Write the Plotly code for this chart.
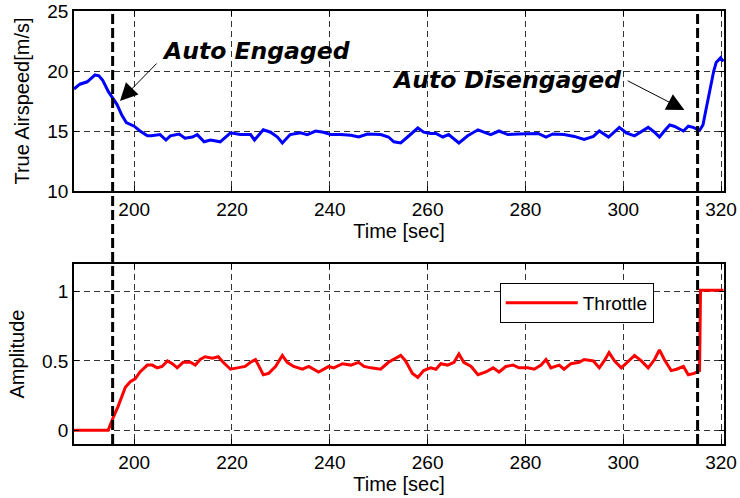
import plotly.graph_objects as go
from plotly.subplots import make_subplots

# True airspeed record [m/s]
t_speed = [187.7, 188.9, 190.4, 192.0, 192.8, 193.6, 194.7, 195.5, 196.5, 197.5,
           198.4, 200.0, 201.2, 202.7, 203.5, 205.3, 206.5, 207.4, 209.2, 210.4,
           211.9, 212.9, 214.3, 215.6, 217.6, 219.7, 221.7, 223.8, 224.6, 226.4,
           227.9, 229.3, 230.3, 231.9, 234.0, 235.4, 237.1, 238.7, 240.2, 242.2,
           244.3, 245.9, 247.7, 250.4, 252.0, 253.1, 254.5, 255.9, 258.0, 259.2,
           260.6, 261.7, 263.1, 264.3, 266.4, 268.2, 270.3, 271.5, 272.9, 274.6,
           276.4, 278.5, 280.5, 282.6, 284.2, 285.6, 287.9, 290.0, 292.0, 293.9,
           295.1, 297.0, 299.2, 300.6, 302.3, 305.1, 306.4, 307.4, 308.4, 309.5,
           310.4, 312.3, 313.3, 314.3, 315.6, 316.3, 316.9, 317.5, 318.0, 318.5,
           319.0, 319.9, 320.5]
airspeed = [18.5, 18.9, 19.1, 19.67, 19.6, 19.2, 18.3, 17.8, 17.2, 16.3,
            15.7, 15.4, 15.0, 14.6, 14.6, 14.7, 14.25, 14.6, 14.75, 14.4,
            14.5, 14.7, 14.1, 14.25, 14.1, 14.85, 14.7, 14.7, 14.25, 15.1,
            14.9, 14.5, 14.0, 14.7, 14.85, 14.7, 15.0, 14.9, 14.7, 14.7,
            14.65, 14.5, 14.75, 14.7, 14.5, 14.1, 14.0, 14.5, 15.25, 14.9,
            14.8, 14.8, 14.5, 14.7, 14.0, 14.6, 15.1, 14.9, 14.7, 15.0,
            14.7, 14.75, 14.8, 14.8, 14.5, 14.75, 14.7, 14.55, 14.3, 14.55,
            15.0, 14.5, 15.3, 14.85, 14.6, 15.3, 14.9, 14.5, 15.0, 15.5,
            15.4, 15.0, 15.4, 15.3, 15.05, 15.5, 16.75, 18.0, 19.25, 20.0,
            20.7, 21.1, 20.8]

# Throttle command (normalised)
t_throttle = [187.7, 194.7, 195.7, 196.7, 198.2, 199.2, 200.2, 201.2, 202.7, 203.7,
              204.7, 205.7, 206.8, 207.8, 208.8, 210.0, 211.5, 212.5, 213.5, 214.5,
              216.0, 217.2, 218.2, 219.7, 221.1, 222.7, 223.8, 224.8, 225.4, 226.4,
              227.5, 228.9, 230.3, 231.3, 232.6, 234.4, 235.7, 237.7, 239.8, 240.8,
              242.6, 244.3, 245.9, 247.0, 248.4, 250.4, 252.0, 253.5, 254.5, 255.5,
              256.9, 258.0, 259.2, 260.6, 261.7, 262.7, 264.1, 265.4, 266.4, 267.4,
              268.9, 270.3, 271.9, 273.4, 274.6, 276.0, 277.5, 278.7, 280.5, 281.8,
              283.2, 284.2, 285.2, 286.9, 287.9, 289.3, 291.0, 292.0, 293.9, 295.1,
              296.1, 297.1, 298.2, 299.6, 301.0, 302.3, 303.7, 305.1, 306.4, 307.4,
              308.4, 309.8, 310.9, 312.3, 313.3, 314.5, 315.6, 315.8, 320.5]
throttle = [0.0, 0.0, 0.09, 0.17, 0.31, 0.35, 0.37, 0.42, 0.47, 0.47,
            0.45, 0.46, 0.5, 0.48, 0.45, 0.49, 0.49, 0.47, 0.51, 0.53,
            0.52, 0.53, 0.49, 0.44, 0.45, 0.46, 0.49, 0.51, 0.47, 0.40,
            0.41, 0.46, 0.54, 0.49, 0.46, 0.44, 0.46, 0.42, 0.46, 0.45,
            0.48, 0.47, 0.49, 0.46, 0.45, 0.44, 0.49, 0.52, 0.54, 0.5,
            0.41, 0.38, 0.43, 0.45, 0.44, 0.48, 0.47, 0.49, 0.55, 0.49,
            0.46, 0.40, 0.42, 0.45, 0.42, 0.46, 0.47, 0.45, 0.45, 0.44,
            0.47, 0.51, 0.45, 0.47, 0.44, 0.48, 0.49, 0.51, 0.5, 0.45,
            0.5, 0.56, 0.5, 0.45, 0.5, 0.54, 0.5, 0.45, 0.51, 0.58,
            0.51, 0.43, 0.44, 0.46, 0.40, 0.41, 0.43, 1.01, 1.01]

# Autopilot engage / disengage instants [sec]
t_engage = 195.6
t_disengage = 315.2

x_range = [187.7, 320.6]
x_ticks = [200, 220, 240, 260, 280, 300, 320]
speed_ticks = [10, 15, 20, 25]
amp_ticks = [0, 0.5, 1]
amp_tick_text = ["0", "0.5", "1"]

FONT = "Liberation Sans, Arial, sans-serif"

fig = make_subplots(rows=2, cols=1)

fig.add_trace(go.Scatter(x=t_speed, y=airspeed, mode="lines",
                         line=dict(color="#0000ff", width=3),
                         showlegend=False, name="True Airspeed"),
              row=1, col=1)
fig.add_trace(go.Scatter(x=t_throttle, y=throttle, mode="lines",
                         line=dict(color="#ff0000", width=3),
                         name="Throttle"),
              row=2, col=1)

axis_common = dict(
    showline=True, linecolor="black", linewidth=1.5, mirror="ticks",
    ticks="inside", ticklen=5, tickcolor="black", automargin=False,
    showgrid=True, gridcolor="#333333", gridwidth=1, griddash="6px,4px",
    zeroline=False, tickfont=dict(family=FONT, size=19, color="black"),
)

fig.update_xaxes(range=x_range, tickvals=x_ticks, **axis_common,
                 ticklabelstandoff=0,
                 title=dict(text="Time [sec]", font=dict(family=FONT, size=20, color="black"),
                            standoff=4))
fig.update_yaxes(**axis_common)
fig.update_yaxes(range=[10, 25], tickvals=speed_ticks, row=1, col=1,
                 title=dict(text="True Airspeed[m/s]",
                            font=dict(family=FONT, size=20, color="black"), standoff=12))
fig.update_yaxes(range=[-0.1, 1.2], tickvals=amp_ticks, ticktext=amp_tick_text, row=2, col=1,
                 title=dict(text="Amplitude",
                            font=dict(family=FONT, size=20, color="black"), standoff=12))

fig.update_layout(
    width=740, height=498,
    margin=dict(l=74, r=16, t=11, b=54, autoexpand=False),
    paper_bgcolor="white", plot_bgcolor="white",
    xaxis=dict(domain=[0, 1]), yaxis=dict(domain=[0.5843, 1.0]),
    xaxis2=dict(domain=[0, 1]), yaxis2=dict(domain=[0.0, 0.4157]),
    legend=dict(x=0.655, y=0.372, xanchor="left", yanchor="top",
                bgcolor="white", bordercolor="black", borderwidth=1,
                font=dict(family=FONT, size=19, color="black"), itemwidth=72),
)

# Engage / disengage markers across both panels
for tx in (t_engage, t_disengage):
    fig.add_shape(type="line", xref="x", yref="paper", x0=tx, x1=tx, y0=0, y1=1,
                  line=dict(color="black", width=3, dash="10px,4px"), layer="above")

label_font = dict(family="DejaVu Sans", size=23.5, color="black", weight="bold", style="italic")
fig.add_annotation(x=225.0, y=21.7, xref="x", yref="y", text="Auto Engaged",
                   showarrow=False, font=label_font)
fig.add_annotation(x=276.2, y=19.25, xref="x", yref="y", text="Auto Disengaged",
                   showarrow=False, font=label_font)

# Pointer arrows
fig.add_annotation(x=197.1, y=17.5, ax=204.9, ay=20.75, xref="x", yref="y",
                   axref="x", ayref="y", text="", showarrow=True,
                   arrowhead=2, arrowsize=3.5, arrowwidth=1, arrowcolor="black")
fig.add_annotation(x=312.5, y=16.75, ax=300.6, ay=19.25, xref="x", yref="y",
                   axref="x", ayref="y", text="", showarrow=True,
                   arrowhead=2, arrowsize=3.5, arrowwidth=1, arrowcolor="black")

fig.write_html("out.html")
